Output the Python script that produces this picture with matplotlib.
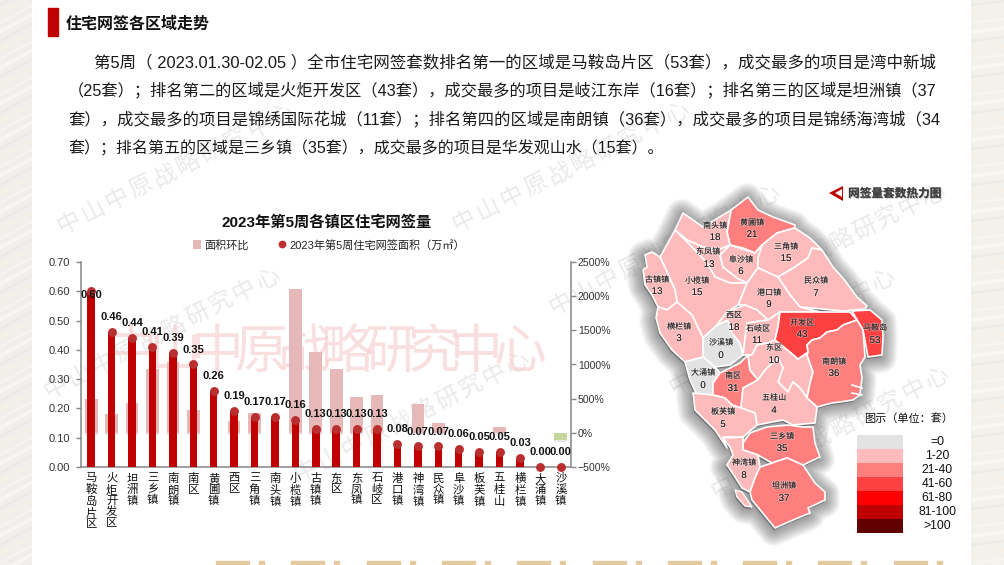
import numpy as np
import matplotlib
matplotlib.use("Agg")
import matplotlib.pyplot as plt
from matplotlib.patches import Polygon, Rectangle, Patch, PathPatch
from matplotlib.lines import Line2D
from matplotlib.path import Path
import matplotlib.patheffects as pe

plt.rcParams['font.family'] = ['Liberation Sans', 'Noto Sans CJK SC', 'DejaVu Sans']
plt.rcParams['axes.unicode_minus'] = False

# ---------- chart data ----------
towns = ['马鞍岛片区','火炬开发区','坦洲镇','三乡镇','南朗镇','南区','黄圃镇','西区','三角镇','南头镇','小榄镇',
         '古镇镇','东区','东凤镇','石岐区','港口镇','神湾镇','民众镇','阜沙镇','板芙镇','五桂山','横栏镇','大涌镇','沙溪镇']
area = [0.60,0.46,0.44,0.41,0.39,0.35,0.26,0.19,0.17,0.17,0.16,0.13,0.13,0.13,0.13,0.08,0.07,0.07,0.06,0.05,0.05,0.03,0.00,0.00]
ratio = [490,270,440,940,1040,330,0,170,285,0,2100,1180,940,520,560,0,415,140,0,0,90,0,0,-110]
left_ticks = [0.00,0.10,0.20,0.30,0.40,0.50,0.60,0.70]
right_ticks = [-500,0,500,1000,1500,2000,2500]

# ---------- map data (outlines in reference pixels) ----------
map_names = ['黄圃镇','南头镇','东凤镇','阜沙镇','三角镇','民众镇','港口镇','小榄镇','古镇镇','横栏镇','沙溪镇','大涌镇',
             '南区','西区','石岐区','东区','开发区','马鞍岛','南朗镇','五桂山','板芙镇','三乡镇','神湾镇','坦洲镇']
map_counts = [21,18,13,6,15,7,9,15,13,3,0,0,31,18,11,10,43,53,36,4,5,35,8,37]
map_outlines = [
 [(731,210),(748,197),(758,210),(773,217),(795,225),(795,228),(777,233),(762,245),(755,253),(743,248),(730,245),(727,232),(729,220)],
 [(683,213),(703,227),(731,210),(727,232),(730,245),(718,250),(703,247),(687,240),(675,230)],
 [(687,240),(703,247),(718,250),(730,245),(720,255),(723,267),(737,278),(747,283),(730,283),(715,277),(707,263),(690,245),(675,233),(675,230)],
 [(730,245),(755,253),(762,245),(758,258),(758,268),(747,283),(737,278),(723,267),(720,255)],
 [(762,245),(777,233),(795,228),(810,238),(822,250),(812,248),(808,258),(795,267),(778,277),(758,268),(758,258)],
 [(822,250),(833,267),(843,278),(857,297),(867,306),(865,309),(843,311),(800,307),(790,295),(778,277),(795,267),(808,258),(812,248)],
 [(758,268),(778,277),(790,295),(800,307),(820,312),(780,312),(768,320),(757,310),(745,305),(738,305),(747,283)],
 [(675,230),(690,245),(707,263),(715,277),(730,283),(747,283),(738,305),(727,312),(717,325),(703,338),(692,315),(677,302),(675,290),(667,272),(660,257)],
 [(645,255),(652,252),(660,257),(667,272),(675,290),(677,302),(667,310),(658,307),(652,295),(645,285),(643,270),(647,267)],
 [(658,307),(667,310),(677,302),(692,315),(703,338),(703,357),(685,362),(672,350),(660,333),(656,318)],
 [(703,338),(717,325),(728,320),(732,333),(740,343),(743,355),(730,365),(715,367),(703,357)],
 [(685,362),(703,357),(715,367),(720,373),(713,383),(713,395),(697,395),(690,380)],
 [(720,373),(740,363),(748,355),(750,370),(758,380),(743,388),(741,408),(732,405),(725,398),(713,395),(713,383)],
 [(717,325),(727,312),(745,305),(757,310),(768,320),(747,323),(743,355),(740,343),(732,333),(728,320)],
 [(747,323),(768,320),(780,312),(778,327),(775,340),(768,343),(757,345),(752,355),(743,355)],
 [(752,355),(757,345),(768,343),(775,340),(790,352),(798,359),(808,352),(807,355),(813,372),(810,383),(807,398),(800,388),(793,382),(788,392),(778,382),(783,368),(778,358),(765,370),(758,380),(750,370),(748,355)],
 [(780,312),(850,312),(857,320),(843,325),(837,330),(827,332),(820,338),(812,340),(807,345),(808,352),(798,359),(790,352),(775,340),(778,327)],
 [(852,311),(870,310),(882,320),(883,337),(882,355),(868,357),(863,330),(860,325)],
 [(857,320),(860,325),(863,330),(865,357),(860,365),(862,378),(860,395),(853,400),(840,402),(832,403),(817,407),(807,398),(810,383),(813,372),(807,355),(808,352),(807,345),(812,340),(820,338),(827,332),(837,330),(843,325)],
 [(743,388),(758,380),(765,370),(778,358),(783,368),(778,382),(788,392),(793,382),(800,388),(807,398),(817,407),(815,423),(793,425),(783,420),(757,425),(755,413),(741,408)],
 [(693,393),(713,395),(725,398),(732,405),(741,408),(755,413),(757,425),(743,437),(723,437),(727,448),(715,430),(695,410)],
 [(743,443),(750,433),(767,427),(788,425),(803,427),(813,427),(815,443),(820,457),(803,465),(787,458),(772,463),(758,455),(743,450)],
 [(723,438),(743,437),(743,450),(758,455),(760,467),(755,478),(750,492),(742,488),(735,477),(727,465),(733,455),(730,447)],
 [(772,463),(787,458),(803,465),(815,483),(825,492),(825,500),(808,508),(810,513),(793,520),(775,528),(752,500),(750,492),(755,478),(760,467)],
]
island_outline = [(735,490),(742,492),(752,507),(745,506),(737,497)]
map_name_xy = [(752,223),(715,226),(708,252),(741,260),(786,247),(816,281),(769,293),(697,281),(657,280),(679,327),(721,343),(703,373),
               (733,376),(734,316),(758,329),(774,348),(802,323),(875,328),(834,362),(774,398),(723,412),(782,437),(744,463),(784,486)]
map_count_xy = [(752,234),(715,237),(709,264),(741,271),(786,258),(816,293),(769,304),(697,292),(657,291),(679,338),(721,355),(703,385),
                (733,388),(734,327),(757,340),(774,360),(802,334),(875,340),(834,373),(774,410),(723,424),(782,448),(744,475),(784,498)]

legend_labels = ['=0','1-20','21-40','41-60','61-80','81-100','>100']
legend_colors = ['#E3E3E3','#FFBBBB','#FF7F7F','#FF4040','#FF0000','#BF0000','#600000']
bin_edges = [1,21,41,61,81,101]

heading = '住宅网签各区域走势'
paragraph = [
 '第5周（ 2023.01.30-02.05 ）全市住宅网签套数排名第一的区域是马鞍岛片区（53套），成交最多的项目是湾中新城',
 '（25套）；排名第二的区域是火炬开发区（43套），成交最多的项目是岐江东岸（16套）；排名第三的区域是坦洲镇（37',
 '套），成交最多的项目是锦绣国际花城（11套）；排名第四的区域是南朗镇（36套），成交最多的项目是锦绣海湾城（34',
 '套）；排名第五的区域是三乡镇（35套），成交最多的项目是华发观山水（15套）。',
]
watermark = '中山中原战略研究中心'
watermark_lines = [((58,230),(295,110)),((45,395),(280,273)),((453,228),(690,108)),((716,303),(945,190)),
                   ((670,390),(895,275)),((295,478),(530,357)),((712,495),(950,372)),((550,310),(780,190))]

W, H = 1004, 565
fig = plt.figure(figsize=(W/100+1e-4, H/100+1e-4), dpi=100, facecolor='white')

# ---------- page layer, in pixels ----------
bg = fig.add_axes([0, 0, 1, 1])
bg.set_xlim(0, W); bg.set_ylim(H, 0); bg.axis('off')

for x0, x1, base, slope in [(0, 32, '#F1EFEC', 0.55), (971, W, '#F3F1EC', 0.12)]:
    clip = Rectangle((x0, 0), x1-x0, H, facecolor=base, edgecolor='none', zorder=0)
    bg.add_patch(clip)
    for k, y in enumerate(range(-40, 640, 9)):
        c = ['#FFFFFF', '#E6E4E0', '#F8F3E4', '#FBFBFA'][k % 4]
        ln, = bg.plot([x0, x1], [y, y-(x1-x0)*slope], color=c, lw=1.6 if k % 2 else 2.6, alpha=.45, zorder=0.5)
        ln.set_clip_path(clip)
for k in range(10):
    s = 216 + 75.3*k
    bg.add_patch(Rectangle((s, 561), 33, 5, color='#E5C9A0', zorder=1))
    bg.add_patch(Rectangle((s+43, 561), 5, 5, color='#E5C9A0', zorder=1))

# watermarks
for (a, b) in watermark_lines:
    ang = np.degrees(np.arctan2(a[1]-b[1], b[0]-a[0]))
    for i, ch in enumerate(watermark):
        t = (i+0.5)/len(watermark)
        bg.text(a[0]+(b[0]-a[0])*t, a[1]+(b[1]-a[1])*t, ch, fontsize=17, color='#DDDDDD', alpha=.6, rotation=ang,
                rotation_mode='anchor', ha='center', va='center', zorder=2)
for i, ch in enumerate(watermark):
    bg.text(131+43.2*i, 354, ch, fontsize=38, color='#F7CFCF', alpha=.65, ha='center', va='center', zorder=2)

# heading + paragraph
bg.add_patch(Rectangle((48, 8), 10, 28, color='#C00000', zorder=3))
bg.text(66, 24, heading, fontsize=11.5, fontweight='bold', color='#111111', va='center', zorder=3)
para_x = [94, 68, 68, 68]
para_y = [62, 90, 119, 148]
para_size = [11.85, 11.7, 11.75, 11.5]
for s, x, y, fs in zip(paragraph, para_x, para_y, para_size):
    bg.text(x, y, s, fontsize=fs, color='#1A1A1A', va='center', zorder=3)

# ---------- map layer ----------
mp = fig.add_axes([0, 0, 1, 1], label='map')
mp.axis('off'); mp.set_zorder(1)
mp.set_xlim(0, W); mp.set_ylim(H, 0)

# soft shadow: one compound outline stroked at growing widths
all_outlines = map_outlines + [island_outline]
compound = Path.make_compound_path(*[Path(p + [p[0]]) for p in all_outlines])
shadow_path = Path(compound.vertices + np.array([-1.0, 2.0]), compound.codes)
for d in range(16, 0, -1):
    mp.add_patch(PathPatch(shadow_path, facecolor='#4D4D4D', edgecolor='#4D4D4D', alpha=.042,
                           lw=2*d*0.72, joinstyle='round', capstyle='round', zorder=3))

def bin_color(v):
    return legend_colors[int(np.searchsorted(bin_edges, v, side='right'))]

for poly, n in zip(map_outlines, map_counts):
    mp.add_patch(Polygon(poly, closed=True, facecolor=bin_color(n), edgecolor='white', lw=1.2, joinstyle='round', zorder=4))
mp.add_patch(Polygon(island_outline, closed=True, facecolor=bin_color(8), edgecolor='white', lw=1.0, zorder=4))
for seg in [((852,385),(862,388)), ((852,393),(862,395))]:
    mp.plot(*zip(*seg), color='white', lw=1.2, zorder=4.2)
mp.set_xlim(0, W); mp.set_ylim(H, 0)
halo = [pe.withStroke(linewidth=1.2, foreground=(1, 1, 1, .35))]
for nm, ct, p, q in zip(map_names, map_counts, map_name_xy, map_count_xy):
    mp.text(p[0], p[1], nm, fontsize=5.8, color='#222222', ha='center', va='center', zorder=5, path_effects=halo)
    mp.text(q[0], q[1], str(ct), fontsize=7, color='#222222', ha='center', va='center', zorder=5, path_effects=halo)

# map title with marker
mp.add_patch(Polygon([(829,193),(843,186),(843,201)], closed=True, facecolor='#C00000', edgecolor='none', zorder=5))
mp.add_patch(Polygon([(835,193),(842,189),(842,197)], closed=True, facecolor='white', edgecolor='none', zorder=5))
mp.text(848, 194, '网签量套数热力图', fontsize=8.4, fontweight='bold', color='#404040', va='center', zorder=5,
        path_effects=[pe.withSimplePatchShadow(offset=(0.6, -0.6), shadow_rgbFace='#888888', alpha=.6), pe.Normal()])

# heat legend
mp.text(909, 419, '图示（单位：套）', fontsize=8, color='#111111', ha='center', va='center', zorder=5)
for i, (lab, col) in enumerate(zip(legend_labels, legend_colors)):
    mp.add_patch(Rectangle((857, 435+14*i), 46, 14, facecolor=col, edgecolor='none', zorder=5))
    mp.text(937, 442+14*i, lab, fontsize=8.8, color='#111111', ha='center', va='center', zorder=5)

# ---------- chart ----------
ax_l, ax_r, ax_t, ax_b = 81, 571, 262, 467
ax = fig.add_axes([ax_l/W, 1-ax_b/H, (ax_r-ax_l)/W, (ax_b-ax_t)/H])
ax.patch.set_alpha(0)
x = np.arange(len(towns))
ax.set_xlim(-0.5, len(towns)-0.5)
ax.set_ylim(0, 0.70)
ax2 = ax.twinx()
ax2.set_ylim(-500, 2500)
ax.set_zorder(3); ax2.set_zorder(2)
ax2.patch.set_alpha(0)

shadow = [pe.withSimplePatchShadow(offset=(0, -1.5), shadow_rgbFace='#AAAAAA', alpha=.25), pe.Normal()]
for xi, r in zip(x, ratio):
    col = '#C3D69B' if r < 0 else '#E6B9B8'
    b = ax2.bar(xi, r, width=0.62, color=col, alpha=1 if r < 0 else .9, linewidth=0)
    b[0].set_path_effects(shadow)

ax.bar(x, area, width=0.37, color='#C00000', linewidth=0, zorder=3)
ax.plot(x, area, ls='none', marker='o', ms=6.4, mfc='#B92E2E', mec='none', clip_on=False, zorder=4)
for xi, v in zip(x, area):
    off = -4 if v >= 0.6 else 15
    ax.annotate(f'{v:.2f}', (xi, v), xytext=(0, off), textcoords='offset pixels', ha='center', va='center',
                fontsize=8, fontweight='bold', color='#111111', zorder=6, annotation_clip=False)

for s in ['top', 'right']:
    ax.spines[s].set_visible(False)
for s in ['top', 'left', 'bottom']:
    ax2.spines[s].set_visible(False)
for sp in [ax.spines['left'], ax.spines['bottom'], ax2.spines['right']]:
    sp.set_color('#868686'); sp.set_linewidth(1.1)
ax.set_yticks(left_ticks, [f'{t:.2f}' for t in left_ticks])
ax2.set_yticks(right_ticks, [f'{t}%'.replace('-', '\u2212') for t in right_ticks])
ax.tick_params(axis='y', length=3.5, width=1, color='#868686', labelsize=8, labelcolor='#333333', pad=4.5)
ax2.tick_params(axis='y', length=3.5, width=1, color='#868686', labelsize=7.6, labelcolor='#333333', pad=1.5)
ax.set_xticks(x, ['\n'.join(t) for t in towns])
ax.tick_params(axis='x', length=0, labelsize=8.2, labelcolor='#111111', pad=4.5)
for lb in ax.get_xticklabels():
    lb.set_linespacing(1.08); lb.set_va('top')

fig.text(327/W, 1-222/H, '2023年第5周各镇区住宅网签量', fontsize=11, fontweight='bold', color='#111111', ha='center', va='center')
ax.legend(handles=[Patch(facecolor='#E6B9B8', edgecolor='none', label='面积环比'),
                   Line2D([], [], ls='none', marker='o', ms=4.6, color='#BE2F2F', label='2023年第5周住宅网签面积（万㎡）')],
          loc='center', bbox_to_anchor=(329/W, 1-245/H), bbox_transform=fig.transFigure, ncol=2, frameon=False,
          fontsize=8, handlelength=0.7, handleheight=0.9, handletextpad=0.35, columnspacing=2.6, labelcolor='#222222')

fig.savefig('out.png', dpi=100)
